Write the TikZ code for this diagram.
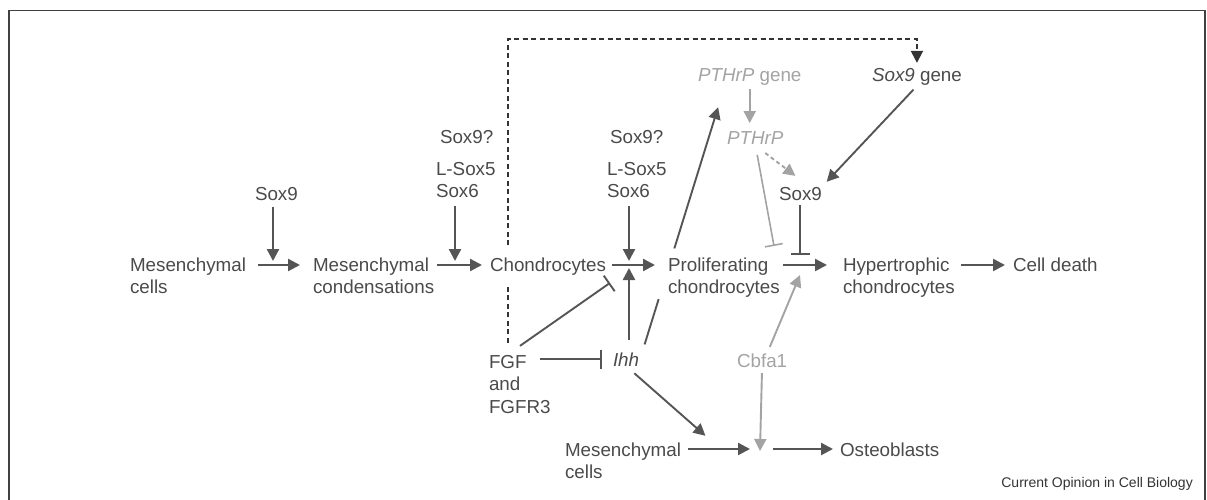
\documentclass[tikz,border=0pt]{standalone}
\usepackage{fontspec}
\setmainfont{Liberation Sans}
\usetikzlibrary{calc, arrows.meta}
\definecolor{ink}{HTML}{4A4A4A}
\definecolor{pale}{HTML}{A3A3A3}
\definecolor{edge}{HTML}{555555}

\begin{document}
\begin{tikzpicture}[x=1pt, y=-1pt,
    >={Triangle[length=12pt, width=12pt]},
    lbl/.style={inner sep=0pt, outer sep=0pt, text=ink, align=left, anchor=base west,
      font=\fontsize{18.8}{22}\selectfont},
    glbl/.style={lbl, text=pale},
    act/.style={->, draw=edge, line width=2.4pt},
    lact/.style={->, draw=edge, line width=1.9pt},
    inh/.style={-{Bar[width=19pt]}, draw=edge, line width=1.9pt},
    gact/.style={->, draw=pale, line width=1.9pt},
    ginh/.style={-{Bar[width=18pt]}, draw=pale, line width=1.6pt},
    dact/.style={->, draw=black!80, line width=1.9pt, dash pattern=on 5pt off 3.5pt},
    gdact/.style={gact, dash pattern=on 4pt off 3pt}]
  \useasboundingbox (0,0) rectangle (1207,500);
  \draw[line width=1.6pt, draw=black!75] (9,500) |- (1205,10.5) -- (1205,500);

  \coordinate (row) at (0,265);
  \coordinate (rowb) at (0,449);
  \coordinate (dtop) at (0,39);
  \coordinate (jm1) at (273,265);
  \coordinate (jm2) at (455,265);
  \coordinate (jc) at (629,265);
  \coordinate (jh) at (800,265);
  \coordinate (jo) at (760,449);

  % main row (base = last line)
  \node[lbl] (mc) at (130,293) {Mesenchymal\\cells};
  \node[lbl] (cond) at (313,293) {Mesenchymal\\condensations};
  \node[lbl] (chon) at (490,271) {Chondrocytes};
  \node[lbl] (prol) at (668,293) {Proliferating\\chondrocytes};
  \node[lbl] (hyp) at (843,293) {Hypertrophic\\chondrocytes};
  \node[lbl] (death) at (1013,271) {Cell death};

  % factors
  \node[lbl] (sox9a) at (255,200) {Sox9};
  \node[lbl] (soxq1) at (440,143) {Sox9?};
  \node[lbl] (ls1) at (436,197) {L-Sox5\\Sox6};
  \node[lbl] (soxq2) at (610,143) {Sox9?};
  \node[lbl] (ls2) at (607,197) {L-Sox5\\Sox6};
  \node[glbl] (pthrpg) at (698,82) {\itshape PTHrP\upshape{} gene};
  \node[glbl] (pthrp) at (727,144) {\itshape PTHrP};
  \node[lbl] (sox9m) at (779,200) {Sox9};
  \node[lbl] (sox9g) at (872,82) {\itshape Sox9\upshape{} gene};
  \node[lbl, font=\fontsize{18.8}{22.5}\selectfont] (fgf) at (489,413) {FGF\\and\\FGFR3};
  \node[lbl] (ihh) at (613,366) {\itshape Ihh};
  \node[glbl] (cbfa) at (737,367) {Cbfa1};
  \node[lbl] (mcb) at (565,478) {Mesenchymal\\cells};
  \node[lbl] (osteo) at (840,456) {Osteoblasts};
  \node[anchor=base east, inner sep=0pt, text=black!80,
    font=\fontsize{14}{16}\selectfont] (credit) at (1193,487) {Current Opinion in Cell Biology};

  % main arrows
  \draw[act, shorten <=12pt, shorten >=13pt] (mc.east |- row) -- (cond.west |- row);
  \draw[act, shorten <=3pt, shorten >=8pt] (cond.east |- row) -- (chon.west |- row);
  \draw[act, shorten <=6pt, shorten >=13pt] (chon.east |- row) -- (prol.west |- row);
  \draw[act, shorten <=3pt, shorten >=16pt] (prol.east |- row) -- (hyp.west |- row);
  \draw[act, shorten <=6pt, shorten >=8pt] (hyp.east |- row) -- (death.west |- row);
  \draw[act, shorten <=7pt, shorten >=10pt] (mcb.east |- rowb) -- (jo);
  \draw[act, shorten <=13pt, shorten >=7pt] (jo) -- (osteo.west |- rowb);

  % inputs to the junctions
  \draw[act, shorten <=7pt, shorten >=4pt] (sox9a.south -| jm1) -- (jm1);
  \draw[act, shorten <=9pt, shorten >=4pt] (ls1.south -| jm2) -- (jm2);
  \draw[act, shorten <=9pt, shorten >=4pt] (ls2.south -| jc) -- (jc);
  \draw[act, shorten <=12pt, shorten >=3pt] (ihh.north -| jc) -- (jc);
  \draw[inh, shorten <=5pt] (sox9m.south -| jh) -- ([yshift=10pt]jh);
  \draw[ginh, shorten <=11pt] (pthrp.south) -- ([xshift=-26pt,yshift=19pt]jh);
  \draw[gact, shorten <=7pt] ([xshift=5pt]cbfa.north) -- ([yshift=-10pt]jh);
  \draw[gact, shorten <=6pt] (cbfa.south) -- ([yshift=-2pt]jo);

  % PTHrP loop
  \draw[gact, shorten <=3pt, shorten >=8pt] (pthrpg.south) -- (pthrpg.south |- pthrp.north);
  \draw[gdact] ([xshift=10pt,yshift=-9pt]pthrp.south) -- ([xshift=-5pt,yshift=11pt]sox9m.north);
  \draw[lact, shorten <=5pt, shorten >=7pt] (sox9g.south) -- (sox9m.north east);

  % Ihh
  \coordinate (ia) at ([xshift=3pt]ihh.north east);
  \coordinate (ib) at ([xshift=-25pt]pthrpg.south);
  \draw[lact, -] ($(ia)!0.03!(ib)$) -- ($(ia)!0.2!(ib)$);
  \draw[lact] ($(ia)!0.39!(ib)$) -- ($(ia)!0.92!(ib)$);
  \coordinate (mid) at ($(mcb.east |- rowb)!0.5!(jo)$);
  \draw[lact, shorten <=11pt, shorten >=20pt] (ihh.south) -- (mid);

  % FGF
  \draw[inh] ([xshift=31pt,yshift=9pt]fgf.north west) -- ([xshift=4pt,yshift=-8pt]chon.south east);
  \draw[inh] ($(ihh.west)+(-73,0)$) -- ($(ihh.west)+(-11,0)$);
  \draw[dact, -] ([xshift=19pt,yshift=12pt]fgf.north west) -- ([xshift=18pt,yshift=-10pt]chon.south west);
  \draw[dact] ([xshift=18pt,yshift=12pt]chon.north west) |- (dtop -| sox9g.north) -- ([yshift=6pt]sox9g.north);
\end{tikzpicture}
\end{document}
